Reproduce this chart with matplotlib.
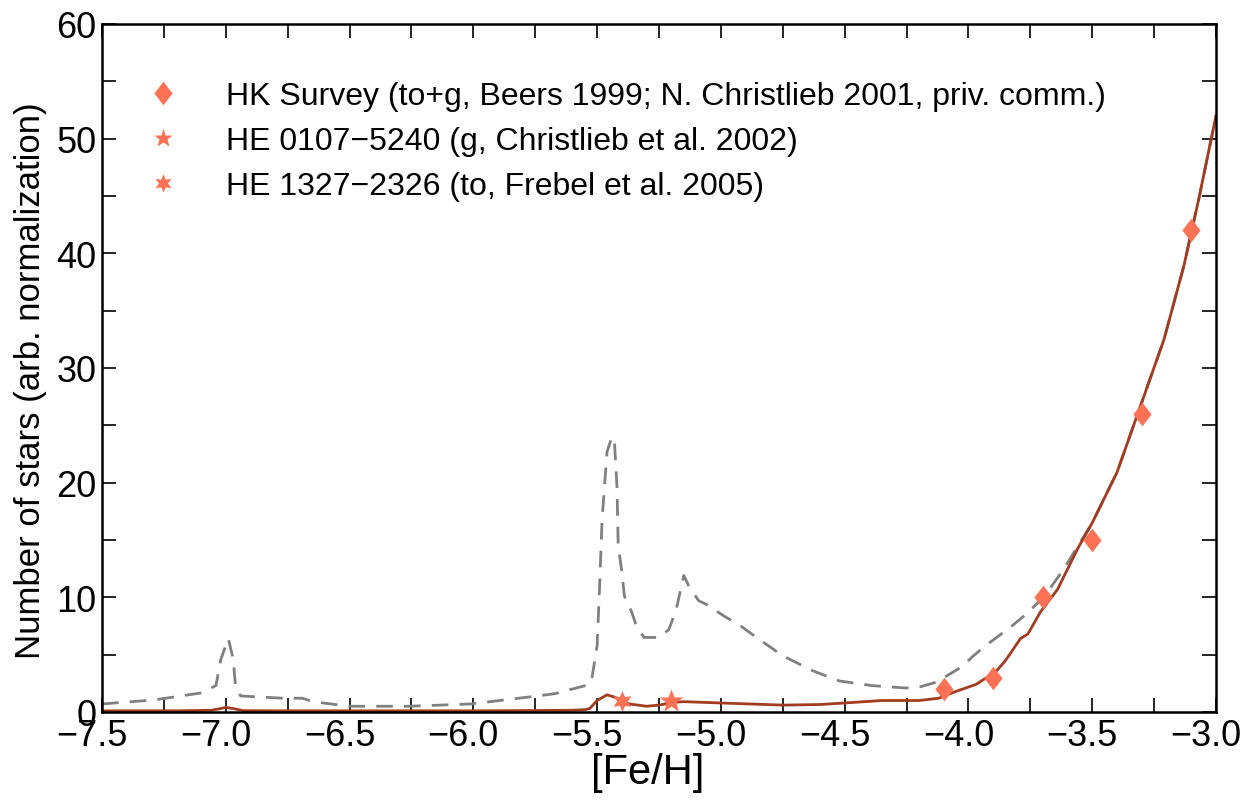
import matplotlib
matplotlib.use('Agg')
import matplotlib.pyplot as plt
import matplotlib.transforms as mtransforms
from matplotlib.path import Path
from matplotlib.ticker import MultipleLocator
import numpy as np

plt.rcParams['font.family'] = ['Liberation Sans', 'DejaVu Sans']

# HK survey points
hk_feh = [-4.1, -3.9, -3.7, -3.5, -3.3, -3.1]
hk_n = [2, 3, 10, 15, 26, 42]

# the two hyper metal-poor stars
he0107_feh, he0107_n = [-5.2], [1.0]
he1327_feh, he1327_n = [-5.4], [1.0]

# model curve (solid)
solid_feh = [-7.5, -7.2, -7.06, -7.02, -7.0, -6.97, -6.93, -6.8, -6.0, -5.6, -5.55,
             -5.53, -5.5, -5.46, -5.43, -5.37, -5.3, -5.25, -5.19, -5.15, -5.02,
             -4.75, -4.6, -4.49, -4.35, -4.2, -4.12, -4.05, -3.97, -3.89, -3.85,
             -3.79, -3.76, -3.71, -3.64, -3.56, -3.5, -3.4, -3.3, -3.21, -3.13,
             -3.07, -3.0]
solid_n = [0.1, 0.1, 0.15, 0.3, 0.4, 0.3, 0.12, 0.1, 0.1, 0.15, 0.2,
           0.3, 1.0, 1.5, 1.3, 0.7, 0.5, 0.6, 0.85, 0.9, 0.8,
           0.6, 0.65, 0.8, 1.0, 1.0, 1.2, 1.8, 2.4, 3.5, 4.5,
           6.4, 6.8, 8.7, 10.7, 14.2, 16.5, 20.9, 27.0, 32.5, 38.9,
           44.7, 52.0]

# model curve (dashed)
dash_feh = [-7.5, -7.29, -7.1, -7.04, -7.02, -6.99, -6.97, -6.96, -6.94, -6.77,
            -6.69, -6.65, -6.5, -6.26, -6.01, -5.74, -5.67, -5.53, -5.52, -5.5,
            -5.49, -5.48, -5.46, -5.44, -5.43, -5.42, -5.415, -5.4, -5.39, -5.36,
            -5.34, -5.31, -5.25, -5.21, -5.18, -5.15, -5.13, -5.09, -5.06, -4.99,
            -4.92, -4.85, -4.75, -4.63, -4.52, -4.39, -4.26, -4.21, -4.13, -4.03,
            -3.98, -3.93, -3.83, -3.78, -3.7, -3.62, -3.56, -3.5, -3.4, -3.3,
            -3.21, -3.13, -3.07, -3.0]
dash_n = [0.7, 1.05, 1.66, 2.3, 4.6, 6.4, 4.6, 2.0, 1.4, 1.2,
          1.2, 0.9, 0.5, 0.5, 0.7, 1.4, 1.6, 2.4, 3.1, 5.8,
          11.0, 16.8, 22.7, 24.0, 23.5, 19.7, 14.5, 12.2, 10.1, 8.7,
          7.4, 6.5, 6.5, 7.2, 9.0, 11.9, 11.0, 9.7, 9.4, 8.4,
          7.5, 6.4, 4.9, 3.6, 2.7, 2.3, 2.1, 2.1, 2.6, 3.9,
          4.9, 5.8, 7.4, 8.3, 9.9, 12.3, 14.4, 16.5, 20.9, 27.0,
          32.5, 38.9, 44.7, 52.0]

coral = '#ff7256'
brown = '#a23b1f'

# diamond a bit narrower than a rotated square
diamond = Path([(0, 1), (0.77, 0), (0, -1), (-0.77, 0), (0, 1)],
               [Path.MOVETO, Path.LINETO, Path.LINETO, Path.LINETO, Path.CLOSEPOLY])

fig = plt.figure(figsize=(12.49, 8.03), dpi=100)
ax = fig.add_axes([0.0817, 0.1121, 0.8919, 0.8568])

ax.plot(dash_feh, dash_n, color='#808080', lw=2.0, dashes=(6, 4))
ax.plot(solid_feh, solid_n, color=brown, lw=2.0)

ax.plot(hk_feh, hk_n, marker=diamond, color=coral, ms=17, mec='none', ls='none',
        label='HK Survey (to+g, Beers 1999; N. Christlieb 2001, priv. comm.)')
ax.plot(he0107_feh, he0107_n, '*', color=coral, ms=18, mec='none', ls='none',
        label='HE 0107\u22125240 (g, Christlieb et al. 2002)')
ax.plot(he1327_feh, he1327_n, marker=(6, 1, 0), color=coral, ms=15, mec='none', ls='none',
        label='HE 1327\u22122326 (to, Frebel et al. 2005)')

ax.set_xlim(-7.5, -3.0)
ax.set_ylim(0, 60)
ax.xaxis.set_major_locator(MultipleLocator(0.5))
ax.xaxis.set_minor_locator(MultipleLocator(0.25))
ax.yaxis.set_major_locator(MultipleLocator(10))
ax.yaxis.set_minor_locator(MultipleLocator(5))
ax.xaxis.set_major_formatter(plt.FuncFormatter(lambda v, p: ('%.1f' % v).replace('-', '\u2212')))
ax.tick_params(which='both', direction='in', top=True, right=True, length=10, width=1.2,
               labelsize=26, pad=4)
for s in ax.spines.values():
    s.set_linewidth(1.8)

# x tick labels sit a little left of their ticks in the original
shift = mtransforms.ScaledTranslation(-10 / 100, 0, fig.dpi_scale_trans)
for lab in ax.get_xticklabels():
    lab.set_transform(lab.get_transform() + shift)

ax.set_xlabel('[Fe/H]', fontsize=30)
ax.xaxis.set_label_coords(0.49, -0.058)
ax.set_ylabel('Number of stars (arb. normalization)', fontsize=25)
ax.yaxis.set_label_coords(-0.049, 0.483)

leg = ax.legend(loc='upper left', bbox_to_anchor=(0.026, 0.917), frameon=False, fontsize=23,
                handlelength=2.0, handletextpad=0.975, labelspacing=0.47, numpoints=1,
                borderaxespad=0, borderpad=0)
sizes = [17, 14, 13]
for h, s in zip(leg.legend_handles, sizes):
    h.set_markersize(s)

fig.savefig('out.png', dpi=100)
